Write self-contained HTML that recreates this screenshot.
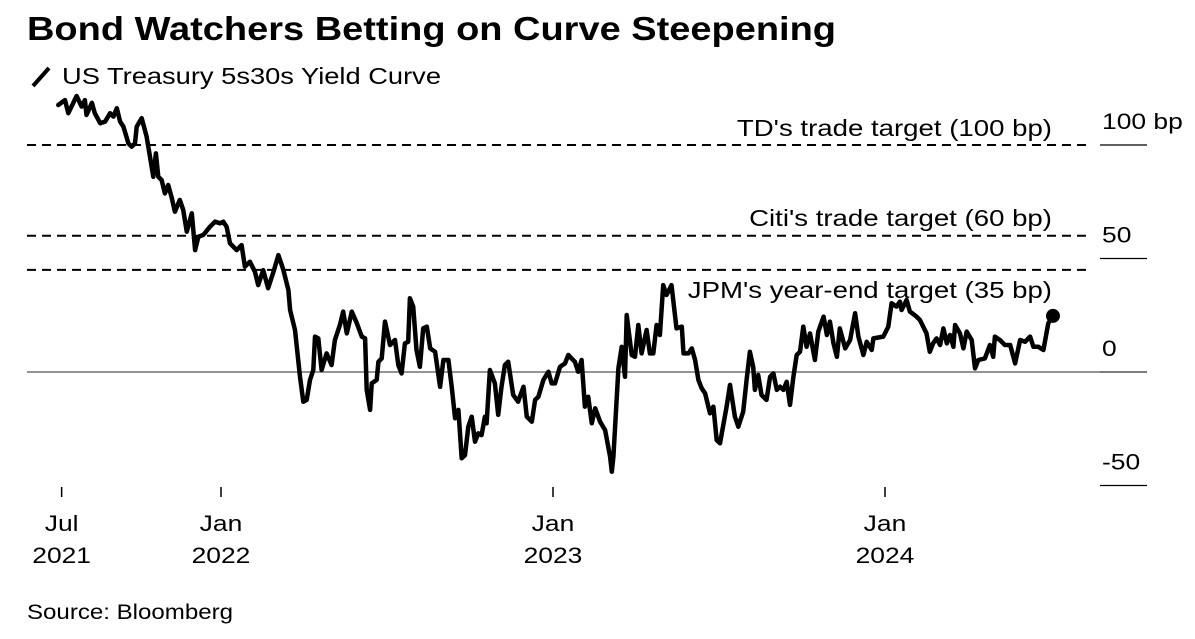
<!DOCTYPE html>
<html><head><meta charset="utf-8"><style>
body{margin:0;background:#fff;width:1195px;height:634px;overflow:hidden;font-family:"Liberation Sans",Arial,sans-serif;}
</style></head><body>
<svg id="chart" width="1195" height="634" viewBox="0 0 1195 634" xmlns="http://www.w3.org/2000/svg" font-family="Liberation Sans, Arial, sans-serif">
<text x="27" y="40" font-size="33" font-weight="bold" fill="#000" textLength="809" lengthAdjust="spacingAndGlyphs">Bond Watchers Betting on Curve Steepening</text>
<line x1="33" y1="86" x2="49" y2="68" stroke="#000" stroke-width="4"/>
<text x="62" y="84" font-size="23" fill="#000" textLength="379" lengthAdjust="spacingAndGlyphs">US Treasury 5s30s Yield Curve</text>
<g id="grid"></g>
<g id="plot"></g>
<text x="27" y="619" font-size="21" fill="#000" textLength="206" lengthAdjust="spacingAndGlyphs">Source: Bloomberg</text>
</svg>
<script>
const dates=[2021.510,2021.530,2021.540,2021.565,2021.580,2021.590,2021.595,2021.611,2021.620,2021.636,2021.651,2021.666,2021.676,2021.686,2021.696,2021.706,2021.721,2021.731,2021.741,2021.746,2021.761,2021.776,2021.786,2021.796,2021.804,2021.811,2021.821,2021.831,2021.841,2021.851,2021.861,2021.876,2021.886,2021.897,2021.912,2021.922,2021.932,2021.947,2021.967,2021.982,2021.997,2022.007,2022.017,2022.027,2022.047,2022.062,2022.072,2022.087,2022.102,2022.112,2022.127,2022.142,2022.158,2022.173,2022.188,2022.203,2022.208,2022.223,2022.238,2022.248,2022.258,2022.268,2022.278,2022.283,2022.293,2022.303,2022.318,2022.333,2022.343,2022.358,2022.368,2022.379,2022.394,2022.409,2022.424,2022.434,2022.439,2022.449,2022.454,2022.469,2022.474,2022.484,2022.494,2022.509,
2022.524,2022.534,2022.544,2022.554,2022.564,2022.569,2022.579,2022.589,2022.599,2022.609,2022.620,2022.630,2022.645,2022.660,2022.670,2022.685,2022.695,2022.705,2022.715,2022.725,2022.735,2022.745,2022.755,2022.765,2022.775,2022.785,2022.795,2022.800,2022.810,2022.825,2022.835,2022.845,2022.855,2022.865,2022.880,2022.895,2022.911,2022.921,2022.936,2022.946,2022.956,2022.971,2022.986,2022.996,2023.006,2023.021,2023.036,2023.046,2023.056,2023.066,2023.076,2023.086,2023.096,2023.106,2023.117,2023.127,2023.142,2023.157,2023.172,2023.177,2023.182,2023.197,2023.207,2023.217,2023.222,2023.237,2023.247,2023.257,2023.267,2023.282,2023.292,2023.302,2023.312,2023.322,2023.332,2023.342,2023.357,2023.372,2023.388,2023.393,2023.408,2023.418,2023.428,2023.438,2023.448,2023.458,2023.473,2023.483,2023.493,2023.503,
2023.523,2023.533,2023.548,2023.558,2023.573,2023.583,2023.593,2023.603,2023.608,2023.618,2023.628,2023.643,2023.654,2023.664,2023.674,2023.684,2023.694,2023.704,2023.714,2023.724,2023.734,2023.744,2023.754,2023.764,2023.774,2023.789,2023.799,2023.815,2023.825,2023.834,2023.845,2023.855,2023.864,2023.880,2023.895,2023.910,2023.920,2023.935,2023.945,2023.960,2023.965,2023.995,2024.010,2024.020,2024.035,2024.045,2024.050,2024.065,2024.075,2024.095,2024.105,2024.115,2024.125,2024.135,2024.145,2024.155,2024.166,2024.176,2024.186,2024.196,2024.206,2024.211,2024.226,2024.236,2024.246,2024.261,2024.271,2024.281,2024.301,2024.316,2024.326,2024.331,2024.346,2024.361,2024.377,2024.392,2024.407,2024.422,2024.437,2024.447,2024.462,2024.477,2024.492,2024.506];
const spread=[117.6,119.8,114.0,121.6,116.9,119.8,113.2,118.6,114.0,109.6,110.3,114.0,112.5,116.2,110.3,108.1,100.7,99.3,100.7,108.1,111.8,103.7,94.8,86.0,96.3,86.0,84.6,78.7,82.4,77.2,70.6,75.8,71.4,61.8,69.9,53.7,59.6,60.4,64.0,66.2,65.5,66.2,64.0,56.7,53.7,55.9,46.4,48.6,44.2,38.3,44.9,36.9,44.2,51.5,44.9,36.1,27.3,18.5,-2.1,-13.1,-12.3,-3.5,0.9,15.6,14.8,0.9,8.2,3.1,14.1,20.7,26.6,17.0,26.6,21.5,15.6,14.8,-7.9,-16.7,-5.0,-3.5,4.5,6.0,22.2,11.9,
14.1,3.1,-0.6,12.6,13.3,32.5,28.8,9.7,2.3,19.2,20.0,10.4,8.9,-6.5,5.3,5.3,-6.5,-20.4,-16.7,-38.0,-36.6,-24.1,-19.7,-30.7,-27.0,-27.8,-19.7,-22.6,0.9,-5.0,-18.9,-6.5,3.1,4.5,-10.1,-13.1,-6.5,-19.7,-21.9,-12.3,-10.9,-3.5,0.1,-5.0,-5.0,2.3,3.8,7.5,6.0,4.5,0.1,5.3,-15.3,-10.9,-22.6,-16.0,-21.9,-25.6,-37.3,-43.9,-37.3,1.6,11.1,-2.1,25.1,7.5,6.7,20.7,8.2,18.5,8.2,8.2,20.7,16.3,38.3,33.9,38.3,19.2,20.0,8.2,8.2,10.4,5.3,-3.5,-7.2,-9.4,-18.2,-15.3,-30.0,-31.4,
-15.3,-5.7,-19.7,-24.1,-17.5,-3.5,8.9,2.3,-7.9,-1.3,-10.1,-12.3,-2.1,-0.6,-7.9,-6.5,-7.9,-4.3,-14.5,-2.1,7.5,8.9,20.0,11.1,17.0,5.3,17.8,24.4,16.3,22.2,12.6,6.7,19.2,10.4,14.1,25.9,15.6,7.5,13.3,9.7,14.8,15.6,20.0,30.3,28.8,31.0,27.3,31.7,26.6,24.4,22.9,20.0,17.0,8.9,12.6,14.8,11.9,19.2,12.6,16.3,11.1,20.7,17.0,10.4,17.8,14.1,1.6,5.3,6.0,11.9,6.7,15.6,14.1,11.9,11.9,3.8,14.1,13.3,15.6,11.1,11.1,9.7,21.5,24.7];
const targetValues=[100,60,45];
const targetLabels=["TD's trade target (100 bp)","Citi's trade target (60 bp)","JPM's year-end target (35 bp)"];
const yTickValues=[100,50,0,-50];
const yTickLabels=["100 bp","50","0","-50"];
const xTickDates=[2021.52,2022.0,2023.0,2024.0];
const xTickMonths=["Jul","Jan","Jan","Jan"];
const xTickYears=["2021","2022","2023","2024"];

const NS="http://www.w3.org/2000/svg";
const W=1.2;
function xs(d){return 221+(d-2022)*332;}
function ys(v){return 372-v*2.27;}
function mk(tag,attrs,parent){const e=document.createElementNS(NS,tag);for(const k in attrs)e.setAttribute(k,attrs[k]);parent.appendChild(e);return e;}
function stretch(t){const w=t.getComputedTextLength();t.setAttribute('textLength',(w*W).toFixed(1));t.setAttribute('lengthAdjust','spacingAndGlyphs');}
const grid=document.getElementById('grid'),plot=document.getElementById('plot');

yTickValues.forEach((v,i)=>{
  const l=mk('line',{x1:1100,x2:1147,y1:ys(v),y2:ys(v),stroke:'#000','stroke-width':1.3},grid);
  
  
  const t=mk('text',{x:1102,y:ys(v)-16,'font-size':22,fill:'#000'},grid);
  t.textContent=yTickLabels[i];
  
  
  stretch(t);
});
const z=mk('line',{x1:27,x2:1147,y1:ys(0),y2:ys(0),stroke:'#555','stroke-width':1.3},grid);


targetValues.forEach((v,i)=>{
  const l=mk('line',{x1:27,x2:1087,y1:ys(v),y2:ys(v),stroke:'#000','stroke-width':2,'stroke-dasharray':'9 6'},grid);
  
  
});
const labY=[136,226,298];
targetLabels.forEach((s,i)=>{
  const t=mk('text',{x:1052,y:labY[i],'font-size':23,'text-anchor':'end',fill:'#000'},grid);
  t.textContent=s;
  
  
  stretch(t);
});
xTickDates.forEach((d,i)=>{
  const x=xs(d);
  const l=mk('line',{x1:x,x2:x,y1:487,y2:497,stroke:'#000','stroke-width':1.5},grid);
  
  
  const t=mk('text',{x:x,y:531,'font-size':22,'text-anchor':'middle',fill:'#000'},grid);
  t.textContent=xTickMonths[i];
  
  
  stretch(t);
  const t2=mk('text',{x:x,y:563,'font-size':22,'text-anchor':'middle',fill:'#000'},grid);
  t2.textContent=xTickYears[i];
  
  
  stretch(t2);
});
const pts=dates.map((d,i)=>xs(d).toFixed(1)+','+ys(spread[i]).toFixed(1)).join(' ');
const pl=mk('polyline',{points:pts,fill:'none',stroke:'#000','stroke-width':4.5,'stroke-linejoin':'round','stroke-linecap':'round'},plot);


const n=dates.length-1;
const dot=mk('circle',{cx:xs(dates[n]),cy:ys(spread[n]),r:7,fill:'#000'},plot);


</script>
</body></html>
